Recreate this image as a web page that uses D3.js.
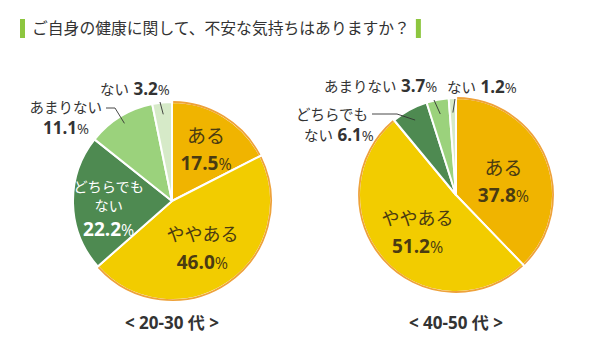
<!DOCTYPE html>
<html><head><meta charset="utf-8">
<script src="https://cdn.jsdelivr.net/npm/d3@7"></script>
<style>
html,body{margin:0;padding:0;background:#fff;}
svg{display:block;font-family:"Noto Sans CJK JP","Noto Sans",sans-serif;}
</style></head>
<body><svg id="c" width="615" height="350"></svg>
<script>
// ---- data ----
const title = "ご自身の健康に関して、不安な気持ちはありますか？";
const categories = ["ある", "ややある", "どちらでもない", "あまりない", "ない"];
const values2030 = [17.5, 46.0, 22.2, 11.1, 3.2];
const values4050 = [37.8, 51.2, 6.1, 3.7, 1.2];
const groupLabels = ["< 20-30 代 >", "< 40-50 代 >"];

const colors = ["#F0B400", "#F2CC00", "#4E8A51", "#9BD27C", "#D6EAC8"];
const borderColor = "#EEA23A";

const svg = d3.select("#c");

// title
svg.append("rect").attr("x", 20).attr("y", 19).attr("width", 5).attr("height", 19).attr("fill", "#8DC63F");
const t = svg.append("text").attr("x", 32).attr("y", 34).attr("font-size", 15.8)
  .attr("fill", "#333").text(title);
const tw = t.node().getComputedTextLength();
svg.append("rect").attr("x", 32 + tw + 6).attr("y", 19).attr("width", 5).attr("height", 19).attr("fill", "#8DC63F");

function drawPie(values, cx, cy, r, groupLabel, layout) {
  const g = svg.append("g").attr("transform", `translate(${cx},${cy})`);
  const pie = d3.pie().sort(null).value(d => d)(values);
  const arc = d3.arc().innerRadius(0).outerRadius(r);
  g.selectAll("path.s").data(pie).enter().append("path")
    .attr("d", arc).attr("fill", (d, i) => colors[i])
    .attr("stroke", "#fff").attr("stroke-width", 2).attr("stroke-linejoin", "round");
  const outer = d3.arc().innerRadius(r).outerRadius(r);
  g.selectAll("path.o").data(pie.slice(0, 2)).enter().append("path")
    .attr("d", d => outer({startAngle: d.startAngle + 0.012, endAngle: d.endAngle - 0.012}))
    .attr("fill", "none").attr("stroke", borderColor).attr("stroke-width", 1.8);

  const pt = (a, rr) => [Math.sin(a) * rr, -Math.cos(a) * rr];

  layout.forEach(L => {
    const d = pie[L.i];
    const mid = (d.startAngle + d.endAngle) / 2;
    const v = values[L.i].toFixed(1);
    if (L.inside) {
      const [x0, y0] = pt(mid, r * L.rf);
      const x = x0 + (L.dx || 0), y = y0 + (L.dy || 0);
      L.lines.forEach((ln, k) => {
        g.append("text").attr("text-anchor", "middle").attr("fill", L.color)
          .attr("x", x).attr("y", y + L.ys[k]).attr("font-size", L.fs).text(ln);
      });
      const ts = g.append("text").attr("text-anchor", "middle").attr("fill", L.color)
        .attr("x", x).attr("y", y + L.ys[L.lines.length])
        .attr("font-size", 19).attr("font-weight", "bold").attr("font-family", "'Open Sans','Noto Sans',sans-serif");
      ts.append("tspan").text(v);
      ts.append("tspan").attr("font-size", 16).attr("font-weight", "normal").text("%");
    } else {
      const [ex, ey] = pt(mid, r * L.rf);
      const pts = L.elbow.map(p => [p[0] - cx, p[1] - cy]).concat([[ex, ey]]);
      g.append("path").attr("d", d3.line()(pts)).attr("fill", "none")
        .attr("stroke", "#333").attr("stroke-width", 0.9);
      L.texts.forEach(T => {
        const tx = g.append("text").attr("x", T.x - cx).attr("y", T.y - cy)
          .attr("text-anchor", T.anchor).attr("fill", "#333").attr("font-size", 14.5);
        if (T.name) tx.append("tspan").text(T.name);
        if (T.value) {
          const vs = tx.append("tspan").attr("font-weight", "bold")
            .attr("font-family", "'Open Sans','Noto Sans',sans-serif").attr("font-size", 17)
            .text((T.name ? " " : "") + v);
          vs.append("tspan").attr("font-weight", "normal").attr("font-size", 14.5).text("%");
        }
      });
    }
  });

  svg.append("text").attr("x", cx).attr("y", 329).attr("text-anchor", "middle")
    .attr("font-size", 17).attr("font-weight", "bold").attr("fill", "#333")
    .attr("font-family", "'Open Sans','Noto Sans CJK JP',sans-serif")
    .text(groupLabel);
}

drawPie(values2030, 172, 201, 99, groupLabels[0], [
  {i: 0, inside: true, rf: 0.6, dx: 3, dy: -1, fs: 19, lines: ["ある"], ys: [-6, 21], color: "#4A3B12"},
  {i: 1, inside: true, rf: 0.6, dx: -3, dy: -3, fs: 18, lines: ["ややある"], ys: [-6, 22], color: "#4A3B12"},
  {i: 2, inside: true, rf: 0.62, dx: -2, dy: 0, fs: 14.2, lines: ["どちらでも", "ない"], ys: [-10.5, 8.5, 33], color: "#fff"},
  {i: 3, inside: false, rf: 0.92, elbow: [[106, 108], [115, 108]],
    texts: [{x: 102, y: 113, anchor: "end", name: "あまりない"}, {x: 66, y: 134, anchor: "middle", value: true}]},
  {i: 4, inside: false, rf: 0.88, elbow: [[160, 102]],
    texts: [{x: 100, y: 95, anchor: "start", name: "ない", value: true}]}
]);

drawPie(values4050, 456, 195, 97, groupLabels[1], [
  {i: 0, inside: true, rf: 0.55, dx: -2, dy: 6, fs: 19, lines: ["ある"], ys: [-6, 21], color: "#4A3B12"},
  {i: 1, inside: true, rf: 0.6, dx: 5, dy: -3, fs: 18, lines: ["ややある"], ys: [-6, 22], color: "#4A3B12"},
  {i: 2, inside: false, rf: 0.88, elbow: [[372, 114], [397, 114]],
    texts: [{x: 368, y: 120, anchor: "end", name: "どちらでも"}, {x: 304, y: 141, anchor: "start", name: "ない", value: true}]},
  {i: 3, inside: false, rf: 0.85, elbow: [[434, 100]],
    texts: [{x: 324, y: 92, anchor: "start", name: "あまりない", value: true}]},
  {i: 4, inside: false, rf: 0.85, elbow: [[455, 99]],
    texts: [{x: 447, y: 93, anchor: "start", name: "ない", value: true}]}
]);
</script></body></html>
